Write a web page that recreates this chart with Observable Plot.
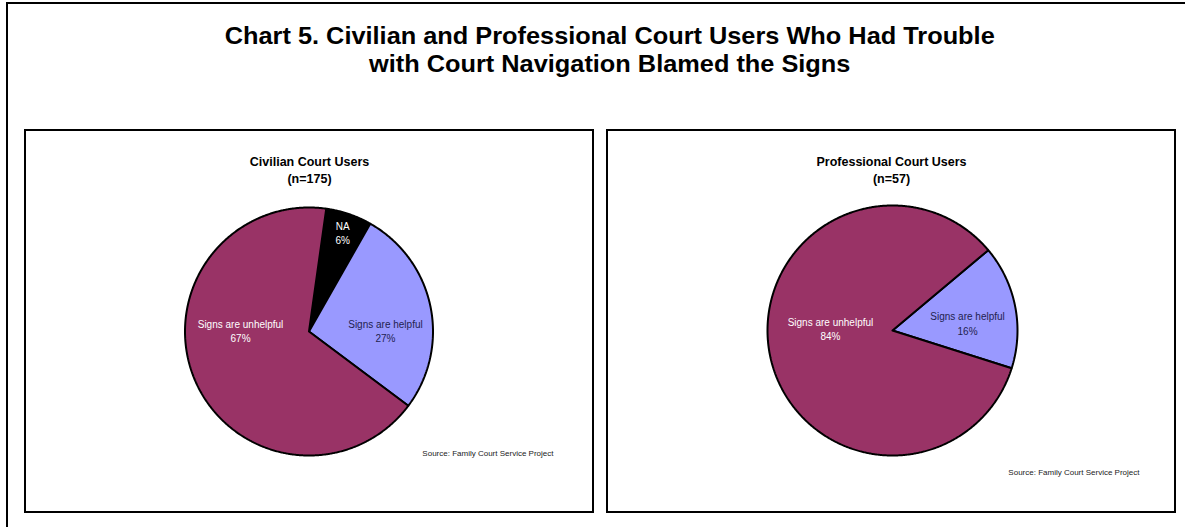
<!DOCTYPE html>
<html>
<head>
<meta charset="utf-8">
<script src="https://cdn.jsdelivr.net/npm/d3@7"></script>
<script src="https://cdn.jsdelivr.net/npm/@observablehq/plot@0.6"></script>
<style>
  body { margin: 0; background: #fff; font-family: "Liberation Sans", Arial, sans-serif; }
  #page { position: relative; width: 1185px; height: 527px; overflow: hidden; background: #fff; }
  #frame { position: absolute; left: 6px; top: 2px; width: 1300px; height: 700px; border: 2px solid #000; box-sizing: border-box; }
  #title { position: absolute; left: 0; width: 1220px; top: 22px; text-align: center; font-weight: bold; font-size: 24px; line-height: 28px; color: #000; }
  #title .wrap { display: inline-block; transform-origin: 50% 50%; }
  .panel { position: absolute; top: 129px; width: 570px; height: 384px; border: 2px solid #000; box-sizing: border-box; background: #fff; }
  .panel svg { display: block; }
</style>
</head>
<body>
<div id="page">
  <div id="frame"></div>
  <div id="title"><div class="wrap"><span id="t1"></span><br><span id="t2"></span></div></div>
  <div class="panel" id="civ" style="left:24px"></div>
  <div class="panel" id="pro" style="left:606px"></div>
</div>
<script>
// ---------- data ----------
const chartTitle = ["Chart 5. Civilian and Professional Court Users Who Had Trouble", "with Court Navigation Blamed the Signs"];
const civTitle = ["Civilian Court Users", "(n=175)"];
const civCategories = ["NA", "Signs are helpful", "Signs are unhelpful"];
const civValues = [6, 27, 67];
const proTitle = ["Professional Court Users", "(n=57)"];
const proCategories = ["Signs are helpful", "Signs are unhelpful"];
const proValues = [16, 84];
const sourceNote = "Source: Family Court Service Project";

// ---------- styles / layout ----------
const sliceFill = { "NA": "#000000", "Signs are helpful": "#9999FF", "Signs are unhelpful": "#993366" };
const labelFill = { "NA": "#ffffff", "Signs are helpful": "#1f1f4f", "Signs are unhelpful": "#ffffff" };
const W = 566, H = 380;
const layouts = {
  civ: { cx: 282.5, cy: 200, r: 124, start: 8, srcDx: -39, srcDy: -56,
         label: { "NA": { f: 0.845, dy: 0 }, "Signs are helpful": { f: 0.63, dy: 14.6 }, "Signs are unhelpful": { f: 0.598, dy: -29.8 } } },
  pro: { cx: 284, cy: 199, r: 125, start: 50, srcDx: -35, srcDy: -37,
         label: { "Signs are helpful": { f: 0.612, dy: 7.3 }, "Signs are unhelpful": { f: 0.506, dy: -14.5 } } }
};

function piePlot(key, titleLines, categories, values) {
  const L = layouts[key];
  const rows = categories.map((c, i) => ({ category: c, value: values[i] }));
  const s0 = L.start * Math.PI / 180;
  const arcs = d3.pie().sort(null).value(d => d.value).startAngle(s0).endAngle(s0 + 2 * Math.PI)(rows);
  // slice outlines in radius units (x right, y up)
  const marks = [];
  for (const a of arcs) {
    const pts = [{ x: 0, y: 0 }];
    const n = Math.max(2, Math.ceil((a.endAngle - a.startAngle) / (0.4 * Math.PI / 180)));
    for (let i = 0; i <= n; i++) {
      const t = a.startAngle + (a.endAngle - a.startAngle) * i / n;
      pts.push({ x: Math.sin(t), y: Math.cos(t) });
    }
    pts.push({ x: 0, y: 0 });
    marks.push(Plot.line(pts, { x: "x", y: "y", fill: sliceFill[a.data.category], stroke: "#000", strokeWidth: 2, strokeLinejoin: "miter", curve: "linear" }));
  }
  const labels = arcs.map(a => {
    const mid = (a.startAngle + a.endAngle) / 2;
    const p = L.label[a.data.category];
    return {
      x: p.f * Math.sin(mid),
      y: p.f * Math.cos(mid) - p.dy / L.r,
      text: a.data.category + "\n" + a.data.value + "%",
      color: labelFill[a.data.category]
    };
  });
  marks.push(Plot.text(labels, { x: "x", y: "y", text: "text", fill: "color", fontSize: 10, lineHeight: 1.45, fontFamily: "Liberation Sans, Arial, sans-serif" }));
  marks.push(Plot.text([titleLines.join("\n")], { frameAnchor: "top", lineAnchor: "middle", dy: 37.5, text: d => d, fontSize: 12.5, fontWeight: "bold", lineHeight: 1.36, fill: "#000", fontFamily: "Liberation Sans, Arial, sans-serif" }));
  marks.push(Plot.text([sourceNote], { frameAnchor: "bottom-right", textAnchor: "end", dx: L.srcDx, dy: L.srcDy, text: d => d, fontSize: 8, fill: "#222", fontFamily: "Liberation Sans, Arial, sans-serif" }));
  return Plot.plot({
    width: W, height: H,
    marginTop: 0, marginRight: 0, marginBottom: 0, marginLeft: 0,
    x: { domain: [-L.cx / L.r, (W - L.cx) / L.r], axis: null },
    y: { domain: [-(H - L.cy) / L.r, L.cy / L.r], axis: null },
    style: { background: "transparent", overflow: "visible" },
    marks
  });
}

document.getElementById("civ").appendChild(piePlot("civ", civTitle, civCategories, civValues));
document.getElementById("pro").appendChild(piePlot("pro", proTitle, proCategories, proValues));

// title
const t1 = document.getElementById("t1"), t2 = document.getElementById("t2");
t1.textContent = chartTitle[0];
t2.textContent = chartTitle[1];
const w1 = t1.getBoundingClientRect().width;
document.querySelector("#title .wrap").style.transform = `scaleX(${770 / w1})`;
</script>
</body>
</html>
